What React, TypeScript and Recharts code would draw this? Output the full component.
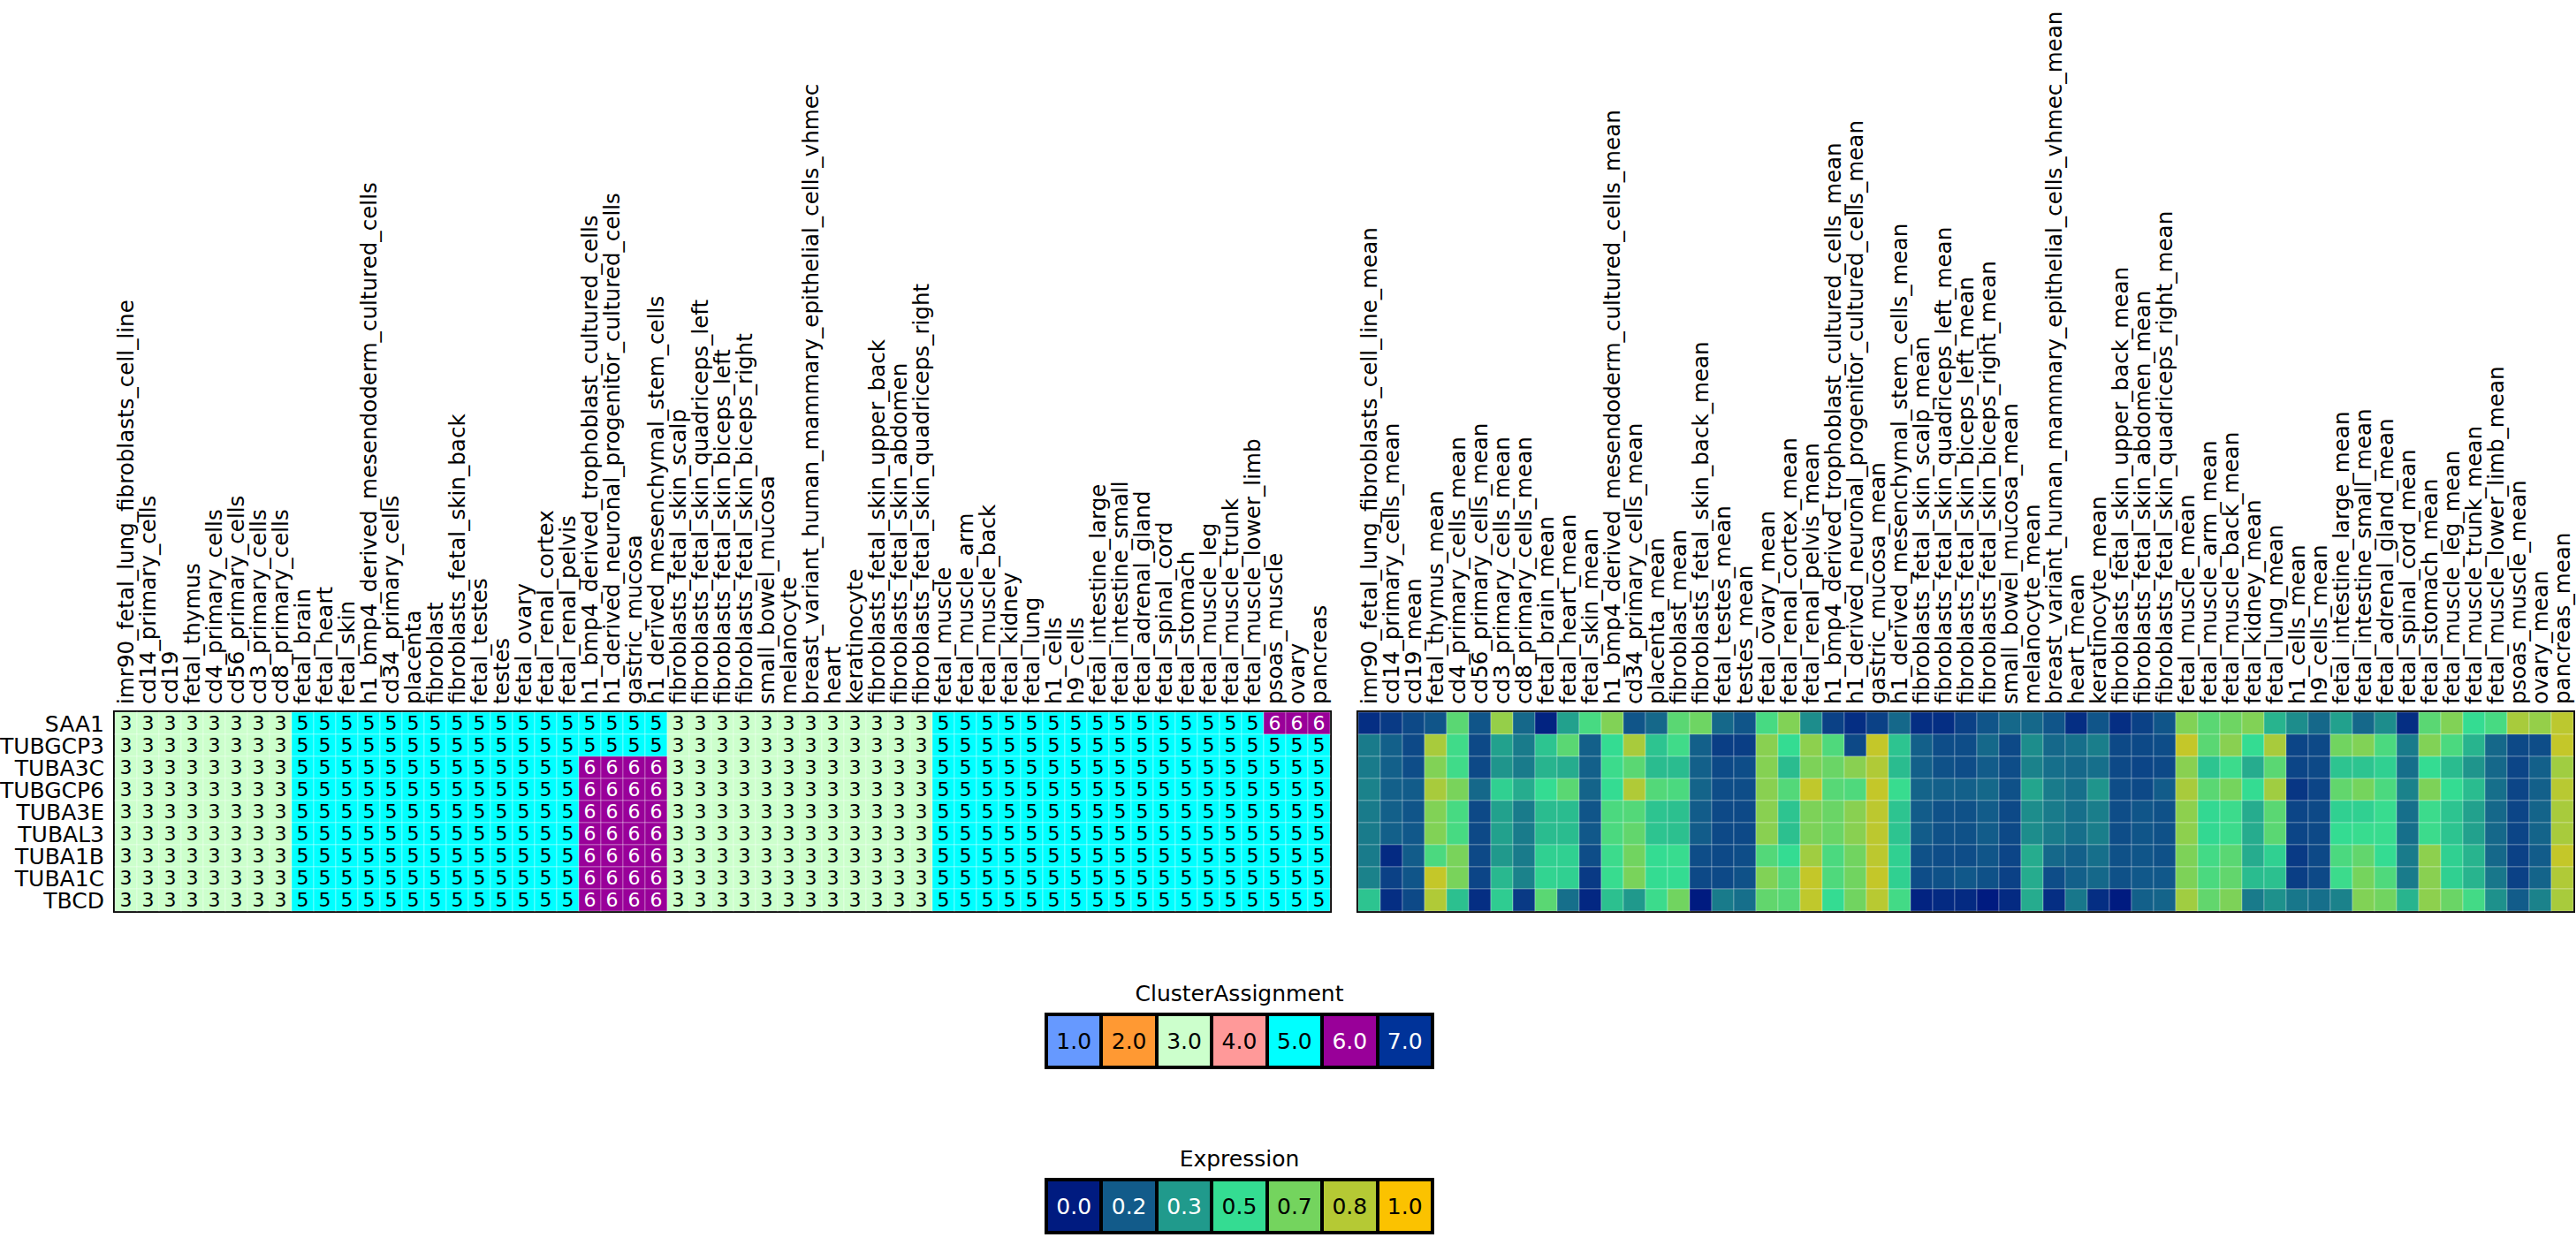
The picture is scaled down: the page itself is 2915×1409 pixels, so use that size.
import React from "react";
import { ScatterChart, Scatter, XAxis, YAxis, ReferenceArea } from "recharts";

const genes = ["SAA1", "TUBGCP3", "TUBA3C", "TUBGCP6", "TUBA3E", "TUBAL3", "TUBA1B", "TUBA1C", "TBCD"];

const samples = [
  "imr90_fetal_lung_fibroblasts_cell_line", "cd14_primary_cells", "cd19", "fetal_thymus",
  "cd4_primary_cells", "cd56_primary_cells", "cd3_primary_cells", "cd8_primary_cells",
  "fetal_brain", "fetal_heart", "fetal_skin", "h1_bmp4_derived_mesendoderm_cultured_cells",
  "cd34_primary_cells", "placenta", "fibroblast", "fibroblasts_fetal_skin_back", "fetal_testes",
  "testes", "fetal_ovary", "fetal_renal_cortex", "fetal_renal_pelvis",
  "h1_bmp4_derived_trophoblast_cultured_cells", "h1_derived_neuronal_progenitor_cultured_cells",
  "gastric_mucosa", "h1_derived_mesenchymal_stem_cells", "fibroblasts_fetal_skin_scalp",
  "fibroblasts_fetal_skin_quadriceps_left", "fibroblasts_fetal_skin_biceps_left",
  "fibroblasts_fetal_skin_biceps_right", "small_bowel_mucosa", "melanocyte",
  "breast_variant_human_mammary_epithelial_cells_vhmec", "heart", "keratinocyte",
  "fibroblasts_fetal_skin_upper_back", "fibroblasts_fetal_skin_abdomen",
  "fibroblasts_fetal_skin_quadriceps_right", "fetal_muscle", "fetal_muscle_arm",
  "fetal_muscle_back", "fetal_kidney", "fetal_lung", "h1_cells", "h9_cells",
  "fetal_intestine_large", "fetal_intestine_small", "fetal_adrenal_gland", "fetal_spinal_cord",
  "fetal_stomach", "fetal_muscle_leg", "fetal_muscle_trunk", "fetal_muscle_lower_limb",
  "psoas_muscle", "ovary", "pancreas",
];
const sampleMeans = samples.map((s) => s + "_mean");

// cluster assignment per gene (left block)
const clusterSAA1 = [3,3,3,3,3,3,3,3, 5,5,5,5,5,5,5,5,5,5,5,5,5,5,5,5,5, 3,3,3,3,3,3,3,3,3,3,3,3, 5,5,5,5,5,5,5,5,5,5,5,5,5,5,5, 6,6,6];
const clusterTUBGCP3 = [3,3,3,3,3,3,3,3, 5,5,5,5,5,5,5,5,5,5,5,5,5,5,5,5,5, 3,3,3,3,3,3,3,3,3,3,3,3, 5,5,5,5,5,5,5,5,5,5,5,5,5,5,5,5,5,5];
const clusterTubulin = [3,3,3,3,3,3,3,3, 5,5,5,5,5,5,5,5,5,5,5,5,5, 6,6,6,6, 3,3,3,3,3,3,3,3,3,3,3,3, 5,5,5,5,5,5,5,5,5,5,5,5,5,5,5,5,5,5];
const clusterRows = [clusterSAA1, clusterTUBGCP3, clusterTubulin, clusterTubulin, clusterTubulin, clusterTubulin, clusterTubulin, clusterTubulin, clusterTubulin];

// mean expression per gene (right block)
const exprSAA1 = [0.05,0.08,0.12,0.15,0.6,0.15,0.75,0.2,0.02,0.35,0.55,0.7,0.15,0.2,0.6,0.65,0.2,0.15,0.55,0.7,0.3,0.1,0.05,0.1,0.2,0.05,0.05,0.1,0.15,0.2,0.2,0.15,0.05,0.15,0.05,0.1,0.15,0.7,0.6,0.65,0.7,0.4,0.3,0.2,0.35,0.2,0.3,0.05,0.6,0.7,0.5,0.55,0.8,0.75,0.85];
const exprTUBGCP3 = [0.25,0.18,0.12,0.8,0.53,0.12,0.35,0.25,0.44,0.6,0.18,0.5,0.8,0.44,0.53,0.18,0.09,0.09,0.72,0.5,0.73,0.57,0.12,0.87,0.44,0.18,0.13,0.13,0.2,0.12,0.3,0.2,0.22,0.26,0.12,0.12,0.13,0.87,0.6,0.72,0.5,0.8,0.11,0.12,0.66,0.7,0.56,0.25,0.7,0.56,0.4,0.2,0.12,0.13,0.87];
const exprTUBA3C = [0.25,0.18,0.13,0.7,0.53,0.12,0.32,0.25,0.4,0.38,0.18,0.52,0.6,0.42,0.42,0.18,0.12,0.13,0.71,0.42,0.69,0.64,0.72,0.82,0.42,0.18,0.14,0.13,0.17,0.13,0.27,0.22,0.2,0.22,0.12,0.11,0.12,0.72,0.44,0.52,0.38,0.6,0.11,0.12,0.44,0.44,0.47,0.22,0.5,0.42,0.32,0.2,0.11,0.18,0.78];
const exprTUBGCP6 = [0.27,0.18,0.17,0.8,0.68,0.2,0.47,0.38,0.5,0.6,0.19,0.5,0.82,0.58,0.56,0.19,0.13,0.13,0.72,0.58,0.86,0.59,0.57,0.87,0.51,0.19,0.18,0.18,0.2,0.14,0.36,0.25,0.22,0.32,0.13,0.12,0.17,0.8,0.6,0.67,0.5,0.78,0.07,0.11,0.62,0.67,0.56,0.27,0.69,0.5,0.42,0.22,0.11,0.18,0.84];
const exprTUBA3E = [0.25,0.18,0.15,0.7,0.55,0.12,0.35,0.25,0.42,0.42,0.15,0.56,0.58,0.44,0.43,0.17,0.12,0.12,0.72,0.44,0.69,0.64,0.72,0.85,0.44,0.17,0.14,0.14,0.17,0.12,0.3,0.25,0.22,0.26,0.13,0.15,0.14,0.73,0.49,0.52,0.38,0.6,0.11,0.12,0.47,0.47,0.51,0.22,0.52,0.44,0.35,0.2,0.11,0.19,0.8];
const exprTUBAL3 = [0.25,0.18,0.16,0.7,0.55,0.12,0.35,0.25,0.42,0.42,0.16,0.56,0.62,0.44,0.43,0.17,0.12,0.12,0.72,0.43,0.69,0.64,0.72,0.85,0.44,0.17,0.14,0.14,0.17,0.12,0.3,0.25,0.22,0.26,0.13,0.15,0.14,0.73,0.49,0.52,0.38,0.6,0.11,0.12,0.5,0.51,0.51,0.22,0.52,0.44,0.35,0.2,0.11,0.19,0.8];
const exprTUBA1B = [0.25,0.04,0.17,0.56,0.68,0.12,0.33,0.25,0.47,0.47,0.13,0.52,0.66,0.5,0.51,0.13,0.12,0.13,0.58,0.5,0.78,0.56,0.66,0.85,0.47,0.14,0.13,0.13,0.15,0.11,0.38,0.2,0.18,0.22,0.14,0.15,0.14,0.69,0.54,0.6,0.38,0.47,0.08,0.12,0.56,0.62,0.5,0.25,0.73,0.47,0.4,0.2,0.1,0.17,0.87];
const exprTUBA1C = [0.27,0.1,0.15,0.87,0.68,0.11,0.41,0.27,0.48,0.47,0.08,0.51,0.68,0.5,0.5,0.12,0.12,0.14,0.7,0.58,0.87,0.57,0.66,0.87,0.47,0.13,0.14,0.16,0.14,0.1,0.38,0.13,0.18,0.2,0.14,0.16,0.16,0.69,0.56,0.62,0.42,0.43,0.09,0.12,0.52,0.67,0.57,0.25,0.72,0.47,0.4,0.24,0.1,0.19,0.82];
const exprTBCD = [0.44,0.05,0.12,0.82,0.43,0.05,0.46,0.08,0.6,0.22,0.03,0.43,0.33,0.52,0.66,0.0,0.25,0.22,0.62,0.59,0.86,0.5,0.66,0.84,0.54,0.02,0.04,0.04,0.0,0.04,0.38,0.05,0.24,0.05,0.0,0.18,0.19,0.78,0.62,0.69,0.25,0.31,0.24,0.22,0.27,0.7,0.66,0.4,0.73,0.64,0.54,0.31,0.17,0.27,0.8];
const exprRows = [exprSAA1, exprTUBGCP3, exprTUBA3C, exprTUBGCP6, exprTUBA3E, exprTUBAL3, exprTUBA1B, exprTUBA1C, exprTBCD];

// legends
const clusterKeys = ["1.0", "2.0", "3.0", "4.0", "5.0", "6.0", "7.0"];
const clusterColors = ["#6699ff", "#ff9933", "#ccffcc", "#ff9999", "#00ffff", "#990099", "#003399"];
const exprKeys = ["0.0", "0.2", "0.3", "0.5", "0.7", "0.8", "1.0"];
const exprStops = ["#001b80", "#125b8a", "#209a8c", "#34dc92", "#74d45e", "#b5c934", "#fbc200"];

const FONT = "DejaVu Sans, sans-serif";
const CELL = 25;
const colTicks = samples.map((_, i) => i + 0.5);
const rowTicks = genes.map((_, i) => i + 0.5);

function hexToRgb(h: string) {
  const n = parseInt(h.slice(1), 16);
  return [(n >> 16) & 255, (n >> 8) & 255, n & 255];
}

function exprColor(v: number) {
  const t = Math.max(0, Math.min(1, v)) * (exprStops.length - 1);
  const i = Math.min(exprStops.length - 2, Math.floor(t));
  const f = t - i;
  const a = hexToRgb(exprStops[i]);
  const b = hexToRgb(exprStops[i + 1]);
  const c = a.map((x, k) => Math.round(x + (b[k] - x) * f));
  return `rgb(${c[0]},${c[1]},${c[2]})`;
}

const clusterData = clusterRows.flatMap((row, r) =>
  row.map((v, c) => ({ x: c + 0.5, y: r + 0.5, v }))
);
const exprData = exprRows.flatMap((row, r) =>
  row.map((v, c) => ({ x: c + 0.5, y: r + 0.5, v }))
);

function ClusterCell(props: any) {
  const { cx, cy, payload } = props;
  const v = payload.v;
  return (
    <g>
      <rect
        x={cx - CELL / 2}
        y={cy - CELL / 2}
        width={CELL}
        height={CELL}
        fill={clusterColors[v - 1]}
        stroke="rgba(255,255,255,0.35)"
        strokeWidth={1}
      />
      <text
        x={cx}
        y={cy}
        dy="0.36em"
        textAnchor="middle"
        fontSize={22}
        fontFamily={FONT}
        fill={v >= 6 ? "#fff" : "#000"}
      >
        {v}
      </text>
    </g>
  );
}

function ExprCell(props: any) {
  const { cx, cy, payload } = props;
  return (
    <rect
      x={cx - CELL / 2}
      y={cy - CELL / 2}
      width={CELL}
      height={CELL}
      fill={exprColor(payload.v)}
      stroke="rgba(255,255,255,0.3)"
      strokeWidth={1}
    />
  );
}

function makeColTick(labels: string[]) {
  return function ColTick(props: any) {
    const { x, payload } = props;
    const i = Math.round(payload.value - 0.5);
    const y = 797;
    return (
      <text
        x={x}
        y={y}
        dy="0.36em"
        transform={`rotate(-90, ${x}, ${y})`}
        textAnchor="start"
        fontSize={24.6}
        fontFamily={FONT}
        fill="#000"
      >
        {labels[i]}
      </text>
    );
  };
}

function RowTick(props: any) {
  const { y, payload } = props;
  const i = Math.round(payload.value - 0.5);
  return (
    <text x={118} y={y} dy="0.36em" textAnchor="end" fontSize={25} fontFamily={FONT} fill="#000">
      {genes[i]}
    </text>
  );
}

function KeyLegend({ title, keys, colors, top, darkFrom }: any) {
  return (
    <div style={{ position: "absolute", left: 1182, top, width: 441, fontFamily: FONT }}>
      <div style={{ textAlign: "center", fontSize: 25, lineHeight: "30px", height: 30 }}>{title}</div>
      <div
        style={{
          marginTop: 6,
          display: "flex",
          border: "4px solid #000",
          height: 56,
          boxSizing: "content-box",
        }}
      >
        {keys.map((k: string, i: number) => (
          <div
            key={k}
            style={{
              flex: 1,
              background: colors[i],
              borderLeft: i === 0 ? "none" : "4px solid #000",
              color: darkFrom(i) ? "#fff" : "#000",
              fontSize: 25,
              display: "flex",
              alignItems: "center",
              justifyContent: "center",
            }}
          >
            {k}
          </div>
        ))}
      </div>
    </div>
  );
}

export default function App() {
  return (
    <div style={{ position: "absolute", left: 0, top: 0, width: 2915, height: 1409, background: "#fff" }}>
      <div style={{ position: "absolute", left: 0, top: 0 }}>
        <ScatterChart width={1520} height={1040} margin={{ top: 0, right: 15, bottom: 9, left: 0 }}>
          <XAxis
            type="number"
            dataKey="x"
            orientation="top"
            domain={[0, 55]}
            ticks={colTicks}
            interval={0}
            height={806}
            tickLine={false}
            axisLine={false}
            tick={makeColTick(samples)}
          />
          <YAxis
            type="number"
            dataKey="y"
            domain={[0, 9]}
            reversed
            ticks={rowTicks}
            interval={0}
            width={130}
            tickLine={false}
            axisLine={false}
            tick={<RowTick />}
          />
          <Scatter data={clusterData} shape={<ClusterCell />} isAnimationActive={false} />
          <ReferenceArea x1={0} x2={55} y1={0} y2={9} fill="none" stroke="#000" strokeWidth={4} ifOverflow="visible" />
        </ScatterChart>
      </div>
      <div style={{ position: "absolute", left: 1520, top: 0 }}>
        <ScatterChart width={1395} height={1040} margin={{ top: 0, right: 3, bottom: 9, left: 17 }}>
          <XAxis
            type="number"
            dataKey="x"
            orientation="top"
            domain={[0, 55]}
            ticks={colTicks}
            interval={0}
            height={806}
            tickLine={false}
            axisLine={false}
            tick={makeColTick(sampleMeans)}
          />
          <YAxis type="number" dataKey="y" domain={[0, 9]} reversed hide />
          <Scatter data={exprData} shape={<ExprCell />} isAnimationActive={false} />
          <ReferenceArea x1={0} x2={55} y1={0} y2={9} fill="none" stroke="#000" strokeWidth={4} ifOverflow="visible" />
        </ScatterChart>
      </div>
      <KeyLegend
        title="ClusterAssignment"
        keys={clusterKeys}
        colors={clusterColors}
        top={1110}
        darkFrom={(i: number) => i >= 5}
      />
      <KeyLegend
        title="Expression"
        keys={exprKeys}
        colors={exprStops}
        top={1297}
        darkFrom={(i: number) => i <= 2}
      />
    </div>
  );
}
